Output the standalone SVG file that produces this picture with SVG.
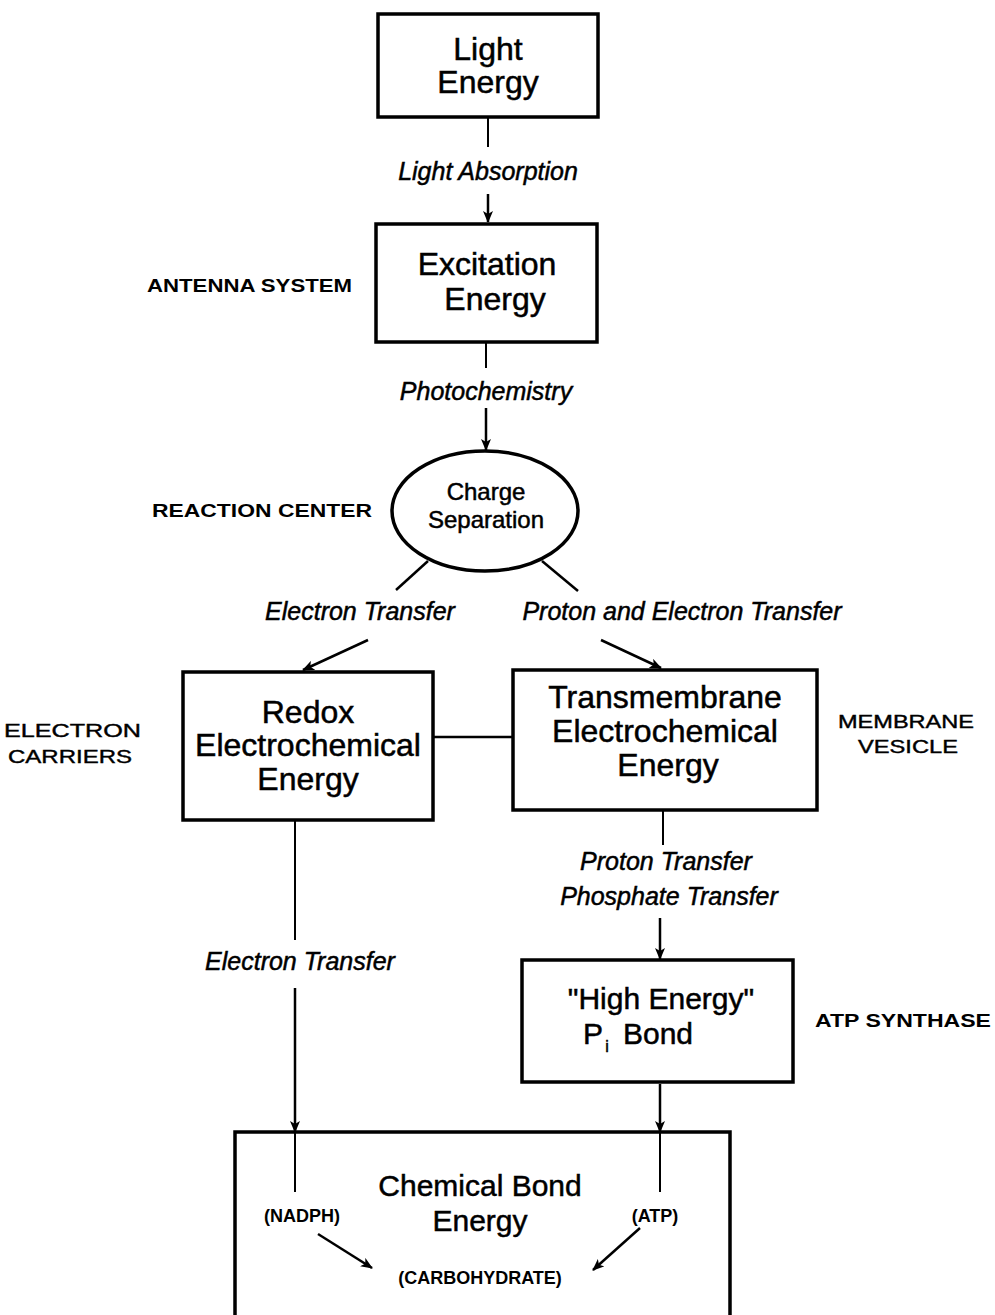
<svg xmlns="http://www.w3.org/2000/svg" width="995" height="1315" viewBox="0 0 995 1315">
<style>
.box{fill:none;stroke:#000;stroke-width:3.5}
.big{font-family:"Liberation Sans",Arial,sans-serif;font-size:32px;text-anchor:middle;fill:#000;stroke:#000;stroke-width:0.5}
.it{font-family:"Liberation Sans",Arial,sans-serif;font-size:25px;font-style:italic;text-anchor:middle;fill:#000;stroke:#000;stroke-width:0.5}
.cap{font-family:"Liberation Sans",Arial,sans-serif;font-size:18px;font-weight:bold;fill:#000}
.ln{stroke:#000;stroke-width:2;fill:none}
.ar{stroke:#000;stroke-width:2.5;fill:none;marker-end:url(#ah)}
</style>
<defs>
<marker id="ah" viewBox="0 0 12 10" refX="11" refY="5" markerWidth="12" markerHeight="10" markerUnits="userSpaceOnUse" orient="auto">
<path d="M0,0 L12,5 L0,10 L3,5 z" fill="#000"/>
</marker>
</defs>
<rect width="995" height="1315" fill="#fff"/>

<g id="light">
<rect class="box" x="378" y="14" width="220" height="103"/>
<text class="big" x="488" y="60">Light</text>
<text class="big" x="488" y="93">Energy</text>
</g>

<g id="excitation">
<rect class="box" x="376" y="224" width="221" height="118"/>
<text class="big" x="487" y="275">Excitation</text>
<text class="big" x="495" y="310">Energy</text>
</g>

<g id="charge">
<ellipse cx="485" cy="511" rx="93" ry="60" fill="none" stroke="#000" stroke-width="3.5"/>
<text class="big" style="font-size:24px" x="486" y="500">Charge</text>
<text class="big" style="font-size:24px" x="486" y="528">Separation</text>
</g>

<g id="redox">
<rect class="box" x="183" y="672" width="250" height="148"/>
<text class="big" x="308" y="723">Redox</text>
<text class="big" x="308" y="756">Electrochemical</text>
<text class="big" x="308" y="790">Energy</text>
</g>

<g id="transmembrane">
<rect class="box" x="513" y="670" width="304" height="140"/>
<text class="big" x="665" y="708">Transmembrane</text>
<text class="big" x="665" y="742">Electrochemical</text>
<text class="big" x="668" y="776">Energy</text>
</g>

<g id="highenergy">
<rect class="box" x="522" y="960" width="271" height="122"/>
<text class="big" style="font-size:30px" x="661" y="1009">"High Energy"</text>
<text class="big" style="font-size:30px" x="593" y="1044">P</text>
<text class="big" style="font-size:16px" x="607" y="1052">i</text>
<text class="big" style="font-size:30px" x="658" y="1044">Bond</text>
</g>

<g id="chemical">
<path class="box" d="M235,1330 L235,1132 L730,1132 L730,1330"/>
<text class="big" style="font-size:30px" x="480" y="1196">Chemical Bond</text>
<text class="big" style="font-size:30px" x="480" y="1231">Energy</text>
<text class="cap" x="302" y="1222" text-anchor="middle">(NADPH)</text>
<text class="cap" x="655" y="1222" text-anchor="middle">(ATP)</text>
<text class="cap" x="480" y="1284" text-anchor="middle">(CARBOHYDRATE)</text>
</g>

<g id="labels">
<text class="cap" x="147" y="292" textLength="205" lengthAdjust="spacingAndGlyphs">ANTENNA SYSTEM</text>
<text class="cap" x="152" y="517" textLength="220" lengthAdjust="spacingAndGlyphs">REACTION CENTER</text>
<text class="cap" style="font-weight:normal;stroke:#000;stroke-width:0.4" x="4" y="737" textLength="137" lengthAdjust="spacingAndGlyphs">ELECTRON</text>
<text class="cap" style="font-weight:normal;stroke:#000;stroke-width:0.4" x="8" y="763" textLength="124" lengthAdjust="spacingAndGlyphs">CARRIERS</text>
<text class="cap" style="font-weight:normal;stroke:#000;stroke-width:0.4" x="838" y="728" textLength="136" lengthAdjust="spacingAndGlyphs">MEMBRANE</text>
<text class="cap" style="font-weight:normal;stroke:#000;stroke-width:0.4" x="858" y="753" textLength="100" lengthAdjust="spacingAndGlyphs">VESICLE</text>
<text class="cap" x="815" y="1027" textLength="176" lengthAdjust="spacingAndGlyphs">ATP SYNTHASE</text>
</g>

<g id="connectors">
<line class="ln" x1="488" y1="117" x2="488" y2="147"/>
<text class="it" x="488" y="180">Light Absorption</text>
<line class="ar" x1="488" y1="194" x2="488" y2="222"/>

<line class="ln" x1="486" y1="342" x2="486" y2="368"/>
<text class="it" x="486" y="400">Photochemistry</text>
<line class="ar" x1="486" y1="408" x2="486" y2="450"/>

<line class="ln" style="stroke-width:2.5" x1="428" y1="561" x2="396" y2="590"/>
<line class="ln" style="stroke-width:2.5" x1="542" y1="561" x2="578" y2="591"/>
<text class="it" x="360" y="620">Electron Transfer</text>
<text class="it" x="682" y="620">Proton and Electron Transfer</text>
<line class="ar" x1="368" y1="640" x2="303" y2="670"/>
<line class="ar" x1="601" y1="640" x2="661" y2="668"/>

<line class="ln" style="stroke-width:2.5" x1="433" y1="737" x2="513" y2="737"/>

<line class="ln" x1="295" y1="820" x2="295" y2="940"/>
<text class="it" x="300" y="970">Electron Transfer</text>
<line class="ar" x1="295" y1="988" x2="295" y2="1132"/>
<line class="ln" x1="295" y1="1132" x2="295" y2="1192"/>

<line class="ln" x1="663" y1="810" x2="663" y2="845"/>
<text class="it" x="666" y="870">Proton Transfer</text>
<text class="it" x="669" y="905">Phosphate Transfer</text>
<line class="ar" x1="660" y1="918" x2="660" y2="959"/>

<line class="ar" x1="660" y1="1084" x2="660" y2="1132"/>
<line class="ln" x1="660" y1="1132" x2="660" y2="1192"/>

<line class="ar" x1="318" y1="1234" x2="372" y2="1268"/>
<line class="ar" x1="640" y1="1228" x2="593" y2="1270"/>
</g>
</svg>
